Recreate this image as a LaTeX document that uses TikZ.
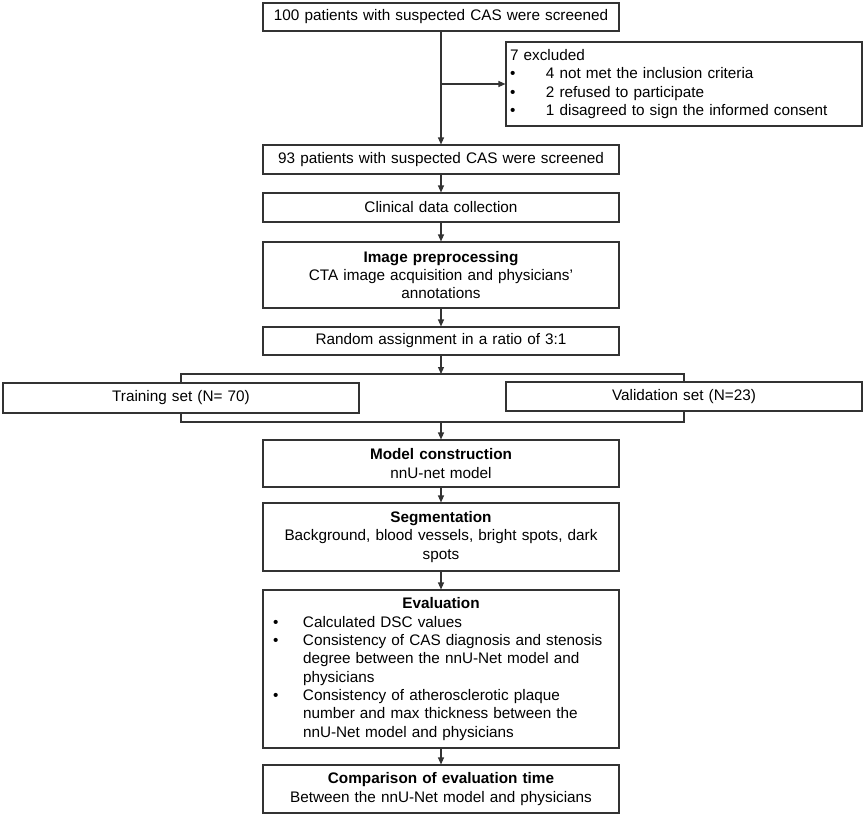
\documentclass[tikz,border=0pt]{standalone}
\usepackage{fontspec}
\setmainfont{Liberation Sans}
\usetikzlibrary{arrows.meta}
\definecolor{framegray}{HTML}{333333}
\newcommand{\dotmark}[1]{\makebox[#1][l]{\textbullet}}

\begin{document}
\begin{tikzpicture}[x=1pt, y=-1pt,
        stage/.style={draw=framegray, line width=1.1pt, inner xsep=10pt, inner ysep=0pt,
            text width=336pt, align=center, font=\fontsize{15.3}{18.3}\selectfont},
        flow/.style={draw=framegray, line width=1.1pt, -{Triangle[length=7pt,width=6pt]}},
        link/.style={draw=framegray, line width=1.1pt}]
        \useasboundingbox (0,0) rectangle (865,816);

        \node[stage, minimum height=28pt] (screen100) at (441,17) {100 patients with suspected CAS were screened};
        \node[stage, minimum height=84pt, align=left, inner xsep=4pt, text width=348pt] (excluded) at (684,84) {
            7 excluded\\
            \dotmark{36pt}4 not met the inclusion criteria\\
            \dotmark{36pt}2 refused to participate\\
            \dotmark{36pt}1 disagreed to sign the informed consent};
        \node[stage, minimum height=29pt] (screen93) at (441,159.5) {93 patients with suspected CAS were screened};
        \node[stage, minimum height=29pt] (clinical) at (441,207.5) {Clinical data collection};
        \node[stage, minimum height=66pt] (preproc) at (441,275) {\textbf{Image preprocessing}\\CTA image acquisition and physicians'\\annotations};
        \node[stage, minimum height=28pt] (assign) at (441,341) {Random assignment in a ratio of 3:1};
        \node[stage, minimum height=30pt] (training) at (181,398) {Training set (N= 70)};
        \node[stage, minimum height=29pt] (validation) at (684,396.5) {Validation set (N=23)};
        \node[stage, minimum height=47pt] (model) at (441,463.5) {\textbf{Model construction}\\nnU-net model};
        \node[stage, minimum height=68pt] (segment) at (441,537) {\textbf{Segmentation}\\Background, blood vessels, bright spots, dark\\spots};
        \node[stage, minimum height=158pt, align=left] (evaluation) at (441,669) {
            \makebox[\linewidth]{\textbf{Evaluation}}\\
            \dotmark{30pt}Calculated DSC values\\
            \dotmark{30pt}Consistency of CAS diagnosis and stenosis\\
            \hspace*{30pt}degree between the nnU-Net model and\\
            \hspace*{30pt}physicians\\
            \dotmark{30pt}Consistency of atherosclerotic plaque\\
            \hspace*{30pt}number and max thickness between the\\
            \hspace*{30pt}nnU-Net model and physicians};
        \node[stage, minimum height=48pt] (compare) at (441,789) {\textbf{Comparison of evaluation time}\\Between the nnU-Net model and physicians};

        \coordinate (branch) at (screen100.south |- excluded.west);
        \coordinate (forkin) at (441,374);
        \coordinate (forkout) at (441,422);

        \draw[flow] (screen100) -- (screen93);
        \draw[flow] (branch) -- (excluded.west);
        \foreach \from/\to in {screen93/clinical, clinical/preproc, preproc/assign, model/segment, segment/evaluation, evaluation/compare}
            \draw[flow] (\from) -- (\to);
        \draw[link] (training.north) |- (forkin) -| (validation.north);
        \draw[link] (training.south) |- (forkout) -| (validation.south);
        \draw[flow] (assign.south) -- (forkin);
        \draw[flow] (forkout) -- (model);
    \end{tikzpicture}
\end{document}
